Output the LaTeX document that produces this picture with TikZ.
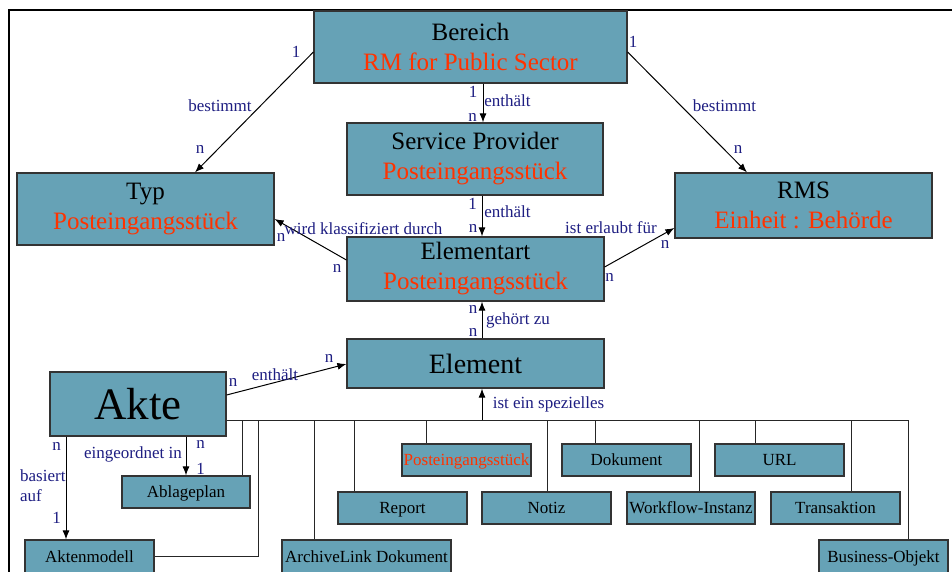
\documentclass[tikz,border=0pt]{standalone}
\usepackage{fontspec}
\setmainfont{Liberation Serif}
\usetikzlibrary{arrows.meta,calc}

\definecolor{boxfill}{HTML}{66A2B6}
\definecolor{boxline}{HTML}{333333}
\definecolor{relblue}{HTML}{1E1E82}
\definecolor{instred}{HTML}{FF3300}

\tikzset{
  entity/.style={draw=boxline, line width=1.2pt, fill=boxfill, inner sep=0pt,
                 align=center, text=black},
  bigent/.style={entity, font=\fontsize{25}{30}\selectfont},
  smallent/.style={entity, font=\fontsize{17}{20}\selectfont,
                   text height=11.3pt, text depth=0pt},
  rel/.style={text=relblue, font=\fontsize{17}{20}\selectfont, inner sep=0pt},
  assoc/.style={draw=black, line width=1pt, -{Latex[length=9pt,width=7pt]}},
  tree/.style={draw=black!85, line width=1pt},
  frame/.style={draw=black, line width=2.2pt},
}

\begin{document}
\begin{tikzpicture}[x=1pt,y=-1pt]
\useasboundingbox (0,0) rectangle (952,572);
\fill[white] (0,0) rectangle (952,572);

% outer frame (top and left edges)
\draw[frame] (9,600) -- (9,10) -- (970,10);

% main entities
\node[bigent, minimum width=313pt, minimum height=72pt] (bereich) at (470.5,47)
  {Bereich\\\textcolor{instred}{RM for Public Sector}};
\node[bigent, minimum width=256pt, minimum height=72pt] (sp) at (475,159)
  {Service Provider\\\textcolor{instred}{Posteingangsstück}};
\node[bigent, minimum width=257pt, minimum height=72pt] (typ) at (145.5,209)
  {Typ\\\textcolor{instred}{Posteingangsstück}};
\node[bigent, minimum width=257pt, minimum height=65pt] (rms) at (803.5,205.5)
  {RMS\\\textcolor{instred}{Einheit : Behörde}};
\node[bigent, minimum width=257pt, minimum height=64pt] (elart) at (475.5,269)
  {Elementart\\\textcolor{instred}{Posteingangsstück}};
\node[entity, font=\fontsize{28}{30}\selectfont, minimum width=257pt, minimum height=49pt]
  (element) at (475.5,363.5) {Element};
\node[entity, font=\fontsize{45}{45}\selectfont, minimum width=176pt, minimum height=64pt]
  (akte) at (138,404) {Akte};

% element kinds and file structure
\node[smallent, minimum width=128pt, minimum height=32pt] (ablage) at (186,492) {Ablageplan};
\node[smallent, minimum width=129pt, minimum height=33pt] (aktenmodell) at (89.5,556.5) {Aktenmodell};
\node[smallent, minimum width=169pt, minimum height=33pt] (archivelink) at (366.5,556.5) {ArchiveLink Dokument};
\node[smallent, minimum width=129pt, minimum height=32pt] (report) at (402.5,508) {Report};
\node[smallent, minimum width=129pt, minimum height=32pt, text=instred] (posteing) at (466.5,460) {Posteingangsstück};
\node[smallent, minimum width=129pt, minimum height=32pt] (notiz) at (546.5,508) {Notiz};
\node[smallent, minimum width=129pt, minimum height=32pt] (dokument) at (626.5,460) {Dokument};
\node[smallent, minimum width=128pt, minimum height=32pt] (workflow) at (691,508) {Workflow-Instanz};
\node[smallent, minimum width=129pt, minimum height=32pt] (url) at (779.5,460) {URL};
\node[smallent, minimum width=129pt, minimum height=32pt] (transaktion) at (835.5,508) {Transaktion};
\node[smallent, minimum width=129pt, minimum height=33pt] (business) at (883.5,556.5) {Business-Objekt};

% associations
\draw[assoc] ($(bereich.west)+(0,5)$) -- ($(typ.north)+(49.5,0)$);
\draw[assoc] ($(bereich.east)+(0,5)$) -- ($(rms.north)+(-56.5,0)$);
\draw[assoc] ($(bereich.south)+(12.5,0)$) -- ($(sp.north)+(8,0)$);
\draw[assoc] ($(sp.south)+(7,0)$) -- ($(elart.north)+(6.5,0)$);
\draw[assoc] ($(elart.west)+(0,-9)$) -- ($(typ.east)+(0,10)$);
\draw[assoc] ($(elart.east)+(0,-2)$) -- ($(rms.west)+(0,22.5)$);
\draw[assoc] ($(element.north)+(6.5,0)$) -- ($(elart.south)+(6.5,0)$);
\draw[assoc] ($(akte.east)+(0,-9)$) -- ($(element.west)+(0,0.5)$);
\draw[assoc] ($(akte.south)+(48,0)$) -- (ablage.north);
\draw[assoc] ($(akte.south)+(-72,0)$) -- ($(aktenmodell.north)+(-23.5,0)$);

% specialisation tree
\coordinate (busL) at (226,420);
\coordinate (busR) at (908,420);
\coordinate (tA) at (242,420);
\coordinate (tM) at (258,420);
\coordinate (tL) at (314,420);
\coordinate (tR) at (354,420);
\coordinate (tP) at (426,420);
\coordinate (tE) at (482,420);
\coordinate (tN) at (547,420);
\coordinate (tD) at (595,420);
\coordinate (tW) at (699,420);
\coordinate (tU) at (755,420);
\coordinate (tT) at (851,420);

\draw[tree] (akte.east |- busL) -- (busR) -- (busR |- business.north);
\draw[tree] (tA) -- (tA |- ablage.north);
\draw[tree] (tM) |- (aktenmodell.east);
\draw[tree] (tL) -- (tL |- archivelink.north);
\draw[tree] (tR) -- (tR |- report.north);
\draw[tree] (tP) -- (tP |- posteing.north);
\draw[tree] (tN) -- (tN |- notiz.north);
\draw[tree] (tD) -- (tD |- dokument.north);
\draw[tree] (tW) -- (tW |- workflow.north);
\draw[tree] (tU) -- (tU |- url.north);
\draw[tree] (tT) -- (tT |- transaktion.north);
\draw[assoc] (tE) -- (tE |- element.south);

% relation labels and cardinalities
\node[rel] (c1) at (296,52) {1};
\node[rel] (l1) at (220,106) {bestimmt};
\node[rel] (c2) at (200,149.5) {n};
\node[rel] (c3) at (633,42) {1};
\node[rel] (l2) at (724.5,106) {bestimmt};
\node[rel] (c4) at (738,149.5) {n};
\node[rel] (c5) at (473,92) {1};
\node[rel] (l3) at (507.5,100.5) {enthält};
\node[rel] (c6) at (472.5,117) {n};
\node[rel] (c7) at (472.5,204) {1};
\node[rel] (l4) at (507.5,212) {enthält};
\node[rel] (c8) at (473,228) {n};
\node[rel] (l5) at (363.5,228.5) {wird klassifiziert durch};
\node[rel] (c9) at (281,237) {n};
\node[rel] (c10) at (337,268) {n};
\node[rel] (l6) at (611,228) {ist erlaubt für};
\node[rel] (c11) at (665,244.5) {n};
\node[rel] (c12) at (609.5,277) {n};
\node[rel] (c13) at (473,309) {n};
\node[rel] (l7) at (518,320) {gehört zu};
\node[rel] (c14) at (473,332.5) {n};
\node[rel] (l8) at (275,374.5) {enthält};
\node[rel] (c15) at (233,382.5) {n};
\node[rel] (c16) at (329,358.5) {n};
\node[rel] (l9) at (548.5,404.5) {ist ein spezielles};
\node[rel] (c17) at (56.5,446) {n};
\node[rel, align=left, anchor=west, font=\fontsize{17}{20}\selectfont] (l10) at (20,486) {basiert\\auf};
\node[rel] (c18) at (56.5,517.5) {1};
\node[rel] (l11) at (133,454) {eingeordnet in};
\node[rel] (c19) at (200.5,444) {n};
\node[rel] (c20) at (200.5,469) {1};
\end{tikzpicture}
\end{document}
